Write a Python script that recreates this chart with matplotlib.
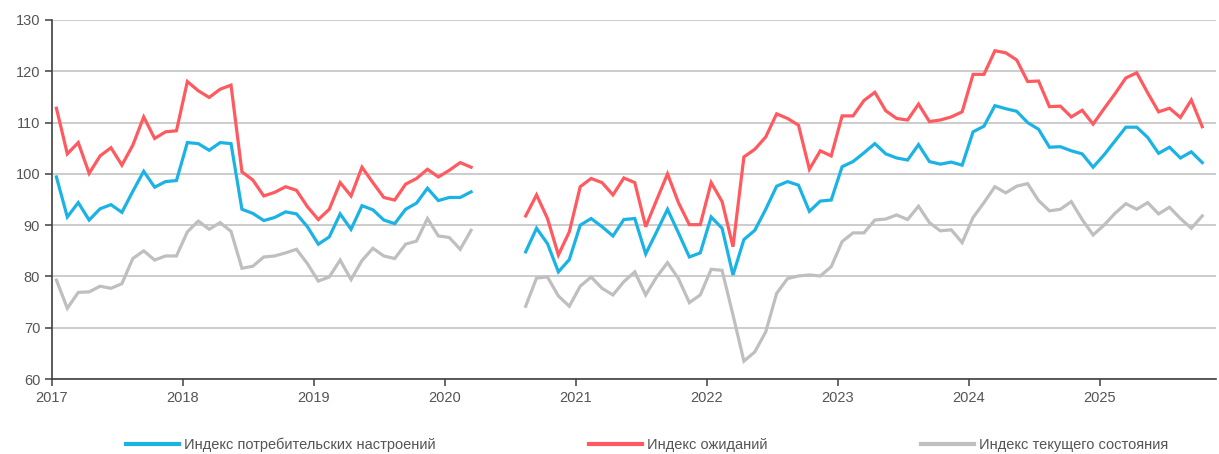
import numpy as np
import matplotlib
matplotlib.use("Agg")
import matplotlib.pyplot as plt
from matplotlib.lines import Line2D

plt.rcParams['font.family'] = ['Liberation Sans', 'DejaVu Sans']

nan = np.nan

# ежемесячные значения, янв 2017 - окт 2025 (апр-июл 2020 нет опроса)
potreb = [
    99.4, 91.6, 94.4, 91.0, 93.2, 94.0, 92.5, 96.6, 100.5, 97.4, 98.5, 98.7,
    106.1, 105.9, 104.6, 106.1, 105.9, 93.1, 92.3, 90.9, 91.5, 92.6, 92.2, 89.7,
    86.3, 87.7, 92.2, 89.2, 93.8, 93.0, 91.0, 90.3, 93.1, 94.3, 97.2, 94.8,
    95.4, 95.4, 96.5, nan, nan, nan, nan, 84.8, 89.4, 86.4, 80.9, 83.3,
    90.0, 91.3, 89.7, 87.9, 91.1, 91.3, 84.4, 88.7, 93.1, 88.5, 83.8, 84.6,
    91.6, 89.4, 80.3, 87.2, 89.0, 93.1, 97.6, 98.5, 97.8, 92.7, 94.7, 94.9,
    101.4, 102.4, 104.1, 105.9, 103.9, 103.1, 102.7, 105.7, 102.4, 101.9, 102.3, 101.7,
    108.2, 109.3, 113.3, 112.7, 112.2, 110.0, 108.7, 105.2, 105.3, 104.5, 103.9, 101.3,
    103.7, 106.4, 109.1, 109.1, 107.1, 104.0, 105.2, 103.1, 104.3, 102.2,
]

ozhid = [
    112.8, 103.9, 106.1, 100.1, 103.5, 105.1, 101.7, 105.6, 111.1, 106.9, 108.2, 108.4,
    118.0, 116.2, 114.9, 116.5, 117.3, 100.4, 98.8, 95.7, 96.4, 97.5, 96.8, 93.6,
    91.1, 93.1, 98.3, 95.7, 101.3, 98.3, 95.4, 94.9, 98.0, 99.1, 100.9, 99.4,
    100.7, 102.2, 101.3, nan, nan, nan, nan, 91.8, 95.9, 91.3, 84.2, 88.7,
    97.5, 99.1, 98.3, 95.9, 99.2, 98.3, 89.7, 94.9, 100.0, 94.4, 90.1, 90.1,
    98.3, 94.6, 85.8, 103.3, 104.8, 107.2, 111.7, 110.8, 109.5, 100.9, 104.5, 103.5,
    111.3, 111.3, 114.3, 115.9, 112.3, 110.8, 110.5, 113.6, 110.2, 110.5, 111.1, 112.1,
    119.4, 119.4, 124.0, 123.6, 122.2, 118.0, 118.1, 113.1, 113.2, 111.1, 112.4, 109.7,
    112.7, 115.6, 118.7, 119.7, 115.8, 112.1, 112.8, 111.0, 114.4, 109.2,
]

tekush = [
    79.3, 73.8, 76.9, 77.0, 78.1, 77.7, 78.6, 83.5, 85.0, 83.2, 84.0, 84.0,
    88.7, 90.8, 89.2, 90.5, 88.8, 81.6, 82.0, 83.8, 84.0, 84.6, 85.3, 82.5,
    79.1, 79.9, 83.2, 79.4, 83.1, 85.5, 84.0, 83.5, 86.3, 86.9, 91.3, 87.9,
    87.6, 85.3, 89.0, nan, nan, nan, nan, 74.2, 79.7, 79.9, 76.2, 74.2,
    78.1, 79.9, 77.7, 76.4, 79.0, 80.9, 76.4, 79.9, 82.7, 79.6, 74.9, 76.4,
    81.4, 81.2, 72.5, 63.5, 65.3, 69.2, 76.7, 79.6, 80.1, 80.3, 80.1, 81.9,
    86.8, 88.5, 88.5, 91.0, 91.2, 92.0, 91.1, 93.7, 90.5, 88.9, 89.1, 86.6,
    91.5, 94.4, 97.5, 96.3, 97.6, 98.1, 94.8, 92.8, 93.1, 94.6, 91.1, 88.1,
    90.0, 92.3, 94.2, 93.1, 94.4, 92.2, 93.5, 91.3, 89.4, 91.8,
]

years = list(range(2017, 2026))
labels = ["Индекс потребительских настроений", "Индекс ожиданий", "Индекс текущего состояния"]
colors = ["#1bb3e6", "#ff5a5f", "#bfbfbf"]

n = len(potreb)
x = 2017 + (np.arange(n) + 0.4) / 12

fig = plt.figure(figsize=(12.19, 4.54), dpi=100)
ax = fig.add_axes([0.0427, 0.165, 0.955, 0.791])

for ser, c in zip([potreb, ozhid, tekush], colors):
    ax.plot(x, ser, color=c, lw=2.3, solid_joinstyle='miter')

ax.set_xlim(2017, 2025.89)
ax.set_ylim(60, 130)
ax.set_yticks(range(60, 131, 10))
ax.set_xticks(years)
ax.set_xticklabels([str(y) for y in years])

ax.grid(axis='y', color='#c8c8c8', lw=1.3)
ax.set_axisbelow(True)
for s in ['top', 'right']:
    ax.spines[s].set_visible(False)
for s in ['left', 'bottom']:
    ax.spines[s].set_color('#404040')
    ax.spines[s].set_linewidth(1.2)
ax.tick_params(axis='both', colors='#404040', labelcolor='#555555', labelsize=10.5,
               length=5, width=1.1)

handles = [Line2D([], [], color=c, lw=3) for c in colors]
fig.legend(handles, labels, loc='lower center', bbox_to_anchor=(0.531, -0.025), ncol=3,
           frameon=False, handlelength=3.65, handletextpad=0.34, columnspacing=10.5,
           prop={'family': ['Liberation Sans Narrow', 'Liberation Sans', 'DejaVu Sans'], 'size': 10.5},
           labelcolor='#555555')

fig.savefig("out.png", dpi=100)
